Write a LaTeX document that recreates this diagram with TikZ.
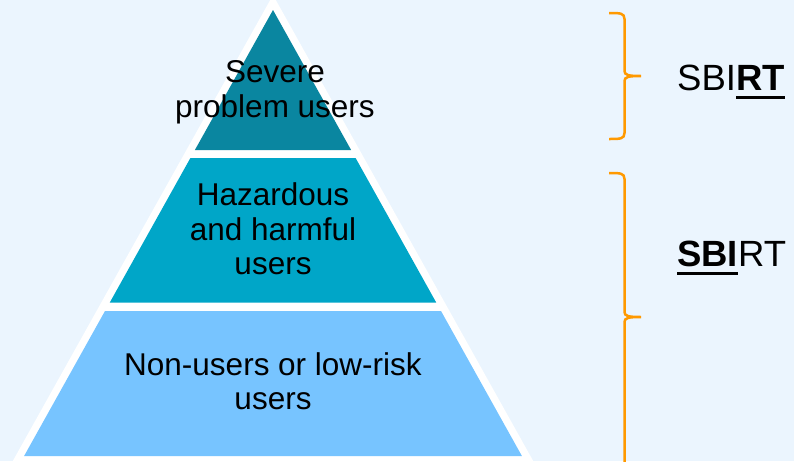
\documentclass[tikz,border=0pt]{standalone}
\usepackage{fontspec}
\setmainfont{Liberation Sans}
\usepackage{xcolor}

\definecolor{bgblue}{RGB}{235,245,254}
\definecolor{topteal}{RGB}{10,134,160}
\definecolor{midteal}{RGB}{0,166,200}
\definecolor{lowblue}{RGB}{119,196,255}
\definecolor{braceorange}{RGB}{255,153,0}

\newcommand\sbirtline[1]{\setbox0\hbox{#1}\rlap{\rule[-8.5pt]{\wd0}{3pt}}\box0}

\begin{document}
\begin{tikzpicture}[x=1pt,y=-1pt]

\tikzset{layer/.style = {align=center, inner sep=0, font=\fontsize{31.5}{34.5}\selectfont}}
\tikzset{tag/.style = {anchor=base west, inner sep=0, font=\fontsize{36.5}{40}\selectfont}}
\tikzset{brace/.style = {draw=braceorange, line width=2.5pt}}

\useasboundingbox (0,0) rectangle (794,461);
\clip (0,0) rectangle (794,461);
\fill[bgblue] (0,0) rectangle (794,461);

%pyramid
\fill[white] (273,-5) -- (536,466) -- (10,466) -- cycle;
\fill[topteal] (273,10) -- (351.1,150) -- (194.9,150) -- cycle;
\fill[midteal] (190.4,158) -- (355.6,158) -- (436.2,302.5) -- (109.8,302.5) -- cycle;
\fill[lowblue] (105,311) -- (441,311) -- (521.9,456) -- (24.1,456) -- cycle;

\node[layer] (severe) at (275,92.5) {Severe\\problem users};
\node[layer] (hazard) at (273,229) {Hazardous\\and harmful\\users};
\node[layer] (lowrisk) at (273,381) {Non-users or low-risk\\users};

%braces
\draw[brace] (609,13) .. controls (620,13) and (624.5,13) .. (624.5,19) -- (624.5,71)
  .. controls (624.5,75) and (628,76) .. (641,76)
  .. controls (628,76) and (624.5,77) .. (624.5,81) -- (624.5,133)
  .. controls (624.5,139) and (620,139) .. (609,139);
\draw[brace] (609,173) .. controls (620,173) and (624.5,173) .. (624.5,179) -- (624.5,312)
  .. controls (624.5,316) and (628,317) .. (641,317)
  .. controls (628,317) and (624.5,318) .. (624.5,322) -- (624.5,466)
  .. controls (624.5,472) and (620,472) .. (609,472);

\node[tag] (treat) at (677,90) {SBI\sbirtline{\textbf{RT}}};
\node[tag] (screen) at (677,266) {\sbirtline{\textbf{SBI}}RT};
\end{tikzpicture}
\end{document}
